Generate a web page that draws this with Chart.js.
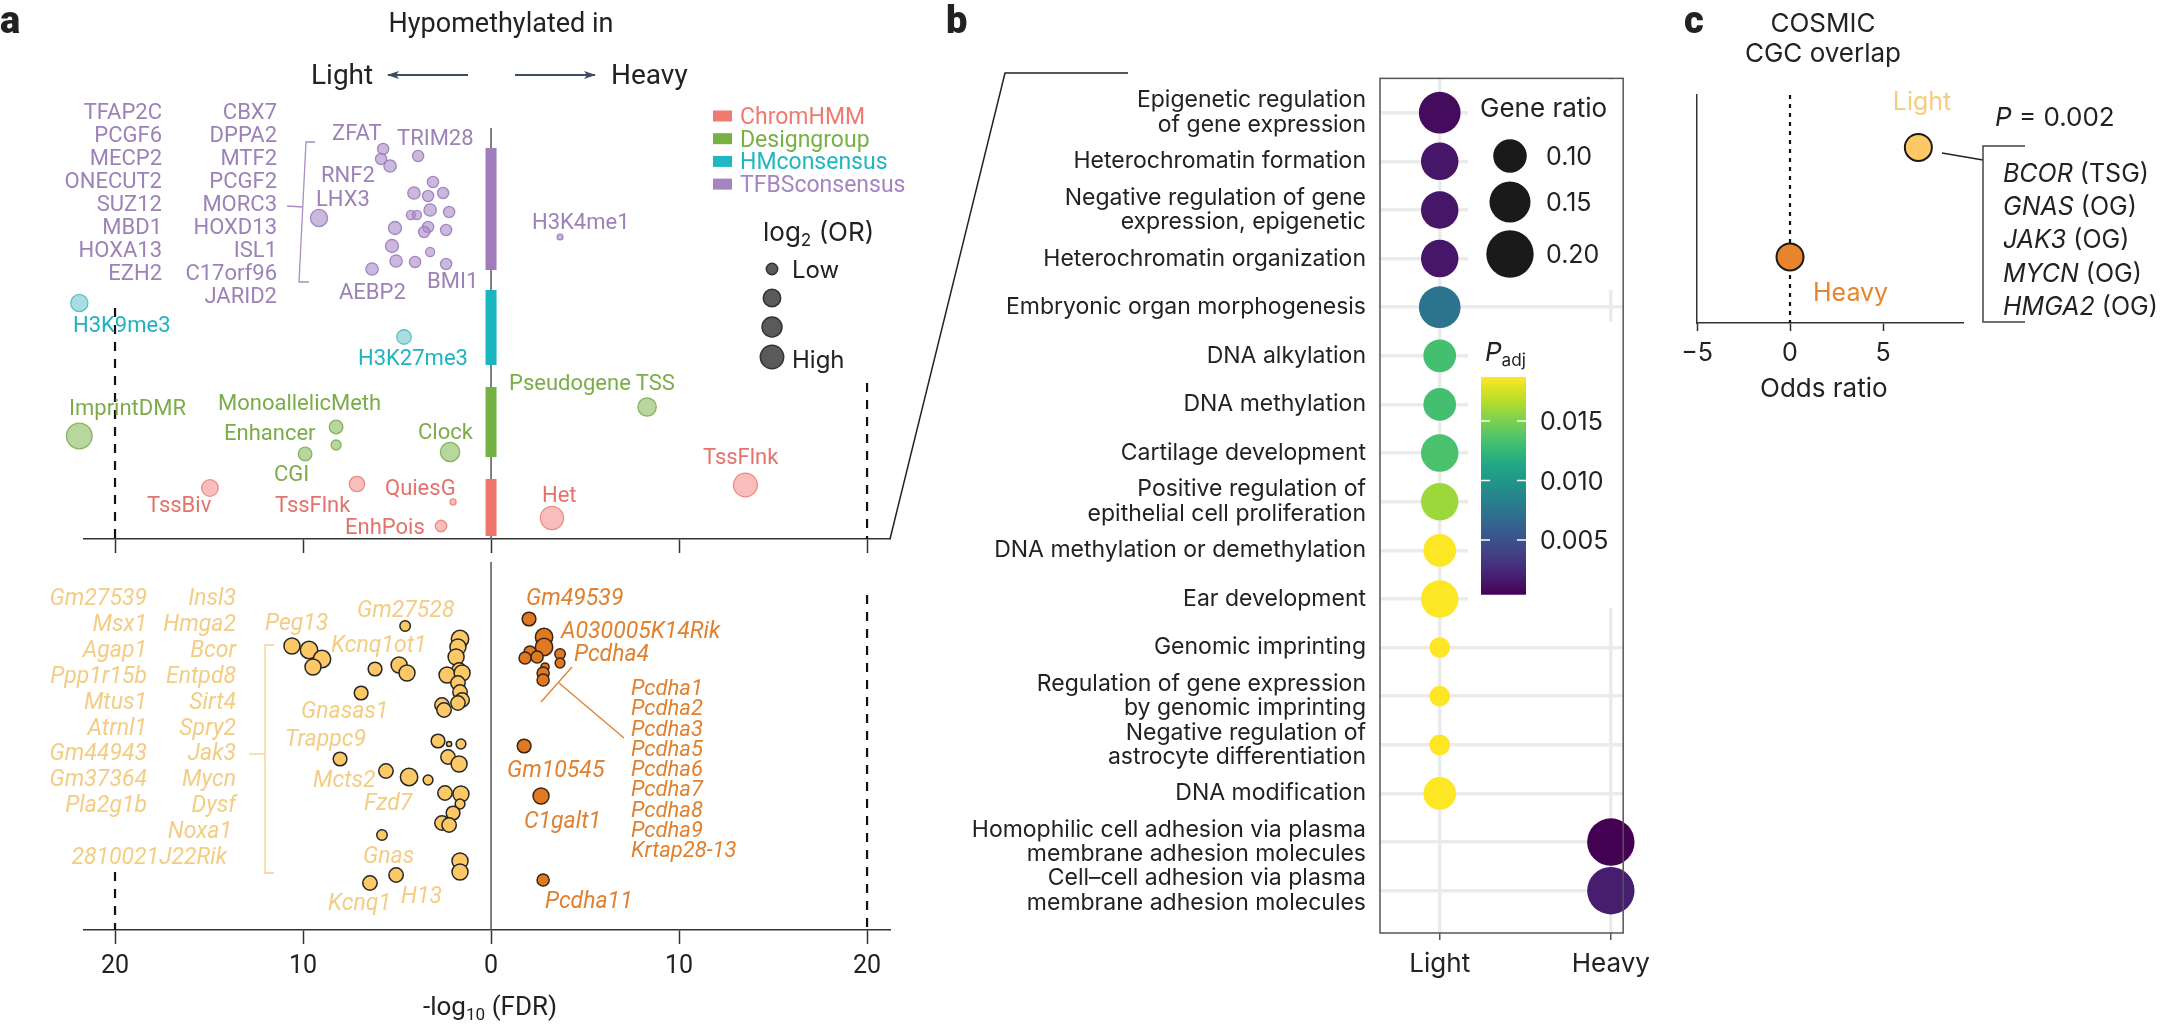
<!DOCTYPE html>
<html>
<head>
<meta charset="utf-8">
<title>DMR enrichment</title>
<script src="https://cdn.jsdelivr.net/npm/chart.js@4.4.1/dist/chart.umd.min.js"></script>
<style>
  html, body { margin: 0; padding: 0; background: #fff; }
  #fig { position: relative; width: 2166px; height: 1027px; overflow: hidden; font-family: Roboto, sans-serif; }
  .box { position: absolute; }
  .t { position: absolute; white-space: nowrap; line-height: 1; }
  #deco { position: absolute; left: 0; top: 0; }
</style>
</head>
<body>
<div id="fig">
  <div class="box" style="left:0;top:0"><canvas id="aTop" width="1000" height="560"></canvas></div>
  <div class="box" style="left:0;top:540px"><canvas id="aBot" width="1000" height="470"></canvas></div>
  <div class="box" style="left:960px;top:40px"><canvas id="bChart" width="700" height="960"></canvas></div>
  <div class="box" style="left:1600px;top:60px"><canvas id="cChart" width="500" height="340"></canvas></div>
  <svg id="deco" width="2166" height="1027"></svg>
</div>
<script>
// ---------- panel a, top: annotation enrichment ----------
// x = signed -log10(FDR) (negative side = hypomethylated in light), y = row position in the strip
const fdrTicks = [-20, -10, 0, 10, 20];

const tfbsFdr = [-5.74, -5.85, -5.37, -3.88, -3.09, -4.10, -3.35, -2.55, -9.15, -3.24, -2.23, -4.26,
                 -3.94, -5.11, -3.35, -3.56, -2.39, -5.27, -3.24, -5.05, -4.04, -2.39, -6.33, 3.67];
const tfbsRow = [39.0, 38.0, 37.3, 38.3, 35.7, 34.6, 34.3, 34.6, 32.1, 32.9, 32.7, 32.4,
                 32.4, 31.1, 31.2, 30.7, 30.9, 29.3, 28.7, 27.8, 27.7, 27.5, 27.0, 30.2];
const tfbsLog2OR = [1.2, 1.2, 1.4, 1.2, 1.2, 1.4, 1.2, 1.2, 2.2, 1.4, 1.2, 0.85,
                    0.85, 1.5, 1.2, 1.2, 1.2, 1.5, 0.85, 1.4, 1.2, 1.2, 1.4, 0.3];

const hmFdr = [-21.9, -4.63];
const hmRow = [23.6, 20.2];
const hmLog2OR = [2.2, 1.75];

const designFdr = [-21.9, -8.24, -8.24, -9.89, -2.18, 8.30];
const designRow = [10.3, 11.2, 9.4, 8.5, 8.7, 13.2];
const designLog2OR = [3.6, 1.6, 1.0, 1.6, 2.55, 2.4];

const chromFdr = [-14.95, -7.13, -2.02, -2.66, 3.24, 13.53];
const chromRow = [5.1, 5.5, 3.7, 1.3, 2.1, 5.4];
const chromLog2OR = [2.1, 1.9, 0.35, 1.25, 3.2, 3.3];

// ---------- panel a, bottom: genes ----------
const lightFdr = [-10.59, -9.68, -8.99, -9.47, -4.57, -6.17, -4.89, -4.47, -6.91, -1.65,
                  -1.76, -1.86, -1.70, -2.34, -1.54, -1.76, -1.65, -2.61, -1.54, -1.76,
                  -2.50, -2.82, -2.23, -1.60, -8.03, -2.29, -1.70, -5.59, -4.36, -3.35,
                  -2.45, -1.60, -1.65, -2.02, -2.61, -2.23, -5.80, -1.65, -1.65, -5.05, -6.44];
const lightRow = [28.4, 28.0, 27.1, 26.3, 30.4, 26.1, 26.5, 25.7, 23.7, 29.1,
                  28.3, 27.3, 26.0, 25.5, 25.7, 24.7, 23.8, 22.5, 23.0, 22.7,
                  22.0, 18.9, 18.6, 18.6, 17.1, 17.3, 16.6, 15.9, 15.3, 15.0,
                  13.7, 13.6, 12.6, 11.7, 10.7, 10.5, 9.5, 6.9, 5.8, 5.5, 4.7];
const lightSize = [2.0, 2.23, 2.23, 2.0, 1.08, 1.62, 2.0, 2.0, 1.62, 2.23,
                   2.0, 2.0, 1.73, 2.0, 2.0, 1.73, 1.73, 1.73, 1.73, 1.73,
                   1.73, 1.62, 0.19, 0.96, 1.62, 1.73, 2.0, 1.73, 2.23, 0.96,
                   1.73, 2.0, 0.96, 1.62, 1.73, 1.73, 1.08, 2.0, 2.0, 1.73, 1.73];

const heavyFdr = [2.02, 2.82, 2.82, 2.07, 3.67, 1.81, 2.45, 3.67, 2.87, 2.77, 2.77, 1.76, 2.66, 2.77];
const heavyRow = [31.1, 29.3, 28.3, 27.8, 27.6, 27.2, 27.3, 26.7, 26.3, 25.7, 25.0, 18.4, 13.4, 5.0];
const heavySize = [1.62, 2.23, 2.23, 1.35, 1.08, 1.35, 1.35, 0.96, 0.69, 1.35, 1.35, 1.62, 2.0, 1.35];

// ---------- panel b: GO terms ----------
const goTerms = [
  ['Epigenetic regulation', 'of gene expression'],
  'Heterochromatin formation',
  ['Negative regulation of gene', 'expression, epigenetic'],
  'Heterochromatin organization',
  'Embryonic organ morphogenesis',
  'DNA alkylation',
  'DNA methylation',
  'Cartilage development',
  ['Positive regulation of', 'epithelial cell proliferation'],
  'DNA methylation or demethylation',
  'Ear development',
  'Genomic imprinting',
  ['Regulation of gene expression', 'by genomic imprinting'],
  ['Negative regulation of', 'astrocyte differentiation'],
  'DNA modification',
  ['Homophilic cell adhesion via plasma', 'membrane adhesion molecules'],
  ['Cell\u2013cell adhesion via plasma', 'membrane adhesion molecules']
];
const goGroups = ['Light', 'Heavy'];
const goGroup = [0, 0, 0, 0, 0, 0, 0, 0, 0, 0, 0, 0, 0, 0, 0, 1, 1];
const goRatio = [0.155, 0.125, 0.125, 0.125, 0.155, 0.095, 0.095, 0.125, 0.125, 0.095,
                 0.125, 0.038, 0.038, 0.038, 0.095, 0.20, 0.20];
const goPadj = [0.0009, 0.0015, 0.0015, 0.0015, 0.0074, 0.0132, 0.0132, 0.0134, 0.0160, 0.0187,
                0.0187, 0.0187, 0.0187, 0.0187, 0.0187, 0.0004, 0.0019];
const ratioTicks = [0.10, 0.15, 0.20];
const padjTicks = [0.015, 0.010, 0.005];

// ---------- panel c: COSMIC CGC ----------
const cgcOdds = [6.9, 0];
const cgcRow = [0.77, 0.29];
const cgcGenes = ['BCOR', 'GNAS', 'JAK3', 'MYCN', 'HMGA2'];
const cgcRoles = ['TSG', 'OG', 'OG', 'OG', 'OG'];
const oddsTicks = [-5, 0, 5];

// ---------- helpers ----------
const PADJ_MIN = 0.0004, PADJ_MAX = 0.0187;
const VIRIDIS = ['#440154', '#482475', '#414487', '#355f8d', '#2a788e', '#21918c',
                 '#22a884', '#44bf70', '#7ad151', '#bddf26', '#fde725'];
function hexRgb(h) { return [1, 3, 5].map(i => parseInt(h.substr(i, 2), 16)); }
function viridis(t) {
  t = Math.min(1, Math.max(0, t));
  const p = t * 10, i = Math.min(9, Math.floor(p)), f = p - i;
  const a = hexRgb(VIRIDIS[i]), b = hexRgb(VIRIDIS[i + 1]);
  return 'rgb(' + a.map((v, k) => Math.round(v + (b[k] - v) * f)).join(',') + ')';
}
const padjColor = p => viridis((p - PADJ_MIN) / (PADJ_MAX - PADJ_MIN));
const orRadius = v => 2 + 3 * v;
const ratioRadius = g => 53 * Math.sqrt(g);

function pts(xs, ys, sz) {
  return xs.map((x, i) => ({ x: x, y: ys[i], r: orRadius(sz[i]) }));
}

const fig = document.getElementById('fig');
function put(html, x, y, o) {
  o = o || {};
  const d = document.createElement('div');
  d.className = 't';
  d.innerHTML = html;
  const tx = o.align === 'right' ? '-100%' : (o.align === 'center' ? '-50%' : '0');
  d.style.left = x + 'px';
  d.style.top = y + 'px';
  d.style.transform = 'translate(' + tx + ',-50%)';
  d.style.fontSize = (o.size || 22) + 'px';
  d.style.color = o.color || '#222';
  d.style.fontFamily = o.font || 'Roboto';
  if (o.italic) d.style.fontStyle = 'italic';
  if (o.weight) d.style.fontWeight = o.weight;
  fig.appendChild(d);
}

// decoration drawn on the panel a charts: centre line, group bars, dashed FDR cut-offs
const aDecor = {
  id: 'aDecor',
  beforeDatasetsDraw(chart, args, opts) {
    const { ctx } = chart;
    const xs = chart.scales.x, ys = chart.scales.y;
    const x0 = xs.getPixelForValue(0);
    ctx.save();
    ctx.strokeStyle = '#555';
    ctx.lineWidth = 1.5;
    ctx.beginPath();
    ctx.moveTo(x0, ys.getPixelForValue(opts.centerTop));
    ctx.lineTo(x0, ys.getPixelForValue(0));
    ctx.stroke();
    (opts.bands || []).forEach(b => {
      const y1 = ys.getPixelForValue(b[0]), y2 = ys.getPixelForValue(b[1]);
      ctx.fillStyle = b[2];
      ctx.fillRect(x0 - 5.5, y1, 11, y2 - y1);
    });
    ctx.setLineDash([9, 8]);
    ctx.strokeStyle = '#111';
    ctx.lineWidth = 2.2;
    opts.dashes.forEach(d => {
      const x = xs.getPixelForValue(d[0]);
      ctx.beginPath();
      ctx.moveTo(x, ys.getPixelForValue(d[1]));
      ctx.lineTo(x, ys.getPixelForValue(0));
      ctx.stroke();
    });
    ctx.restore();
  }
};

function aOptions(yMax, axisH, padTop, showLabels, decor) {
  return {
    responsive: false,
    animation: false,
    events: [],
    layout: { padding: { left: 84, right: 110, top: padTop, bottom: 0 }, autoPadding: false },
    plugins: { legend: { display: false }, tooltip: { enabled: false }, aDecor: decor },
    scales: {
      x: {
        type: 'linear', min: -21.65, max: 21.22,
        afterBuildTicks: s => { s.ticks = fdrTicks.map(v => ({ value: v })); },
        afterFit: s => { s.height = axisH; },
        grid: { display: true, drawOnChartArea: false, drawTicks: true, tickLength: 14, tickColor: '#333', tickWidth: 1.5 },
        border: { display: true, color: '#333', width: 1.5 },
        ticks: { display: showLabels, callback: v => String(Math.abs(v)), font: { family: 'Roboto', size: 25 }, color: '#222', padding: 8, maxRotation: 0, autoSkip: false }
      },
      y: { display: false, min: 0, max: yMax }
    }
  };
}

// ---------- panel a, top chart ----------
new Chart(document.getElementById('aTop'), {
  type: 'bubble',
  data: {
    datasets: [
      { data: pts(tfbsFdr, tfbsRow, tfbsLog2OR), backgroundColor: 'rgba(170,140,200,0.62)', borderColor: 'rgba(150,118,186,0.85)', borderWidth: 1.3, clip: false },
      { data: pts(hmFdr, hmRow, hmLog2OR), backgroundColor: 'rgba(110,200,205,0.6)', borderColor: 'rgba(70,185,192,0.85)', borderWidth: 1.3, clip: false },
      { data: pts(designFdr, designRow, designLog2OR), backgroundColor: 'rgba(140,190,100,0.62)', borderColor: 'rgba(118,172,76,0.85)', borderWidth: 1.3, clip: false },
      { data: pts(chromFdr, chromRow, chromLog2OR), backgroundColor: 'rgba(244,150,145,0.62)', borderColor: 'rgba(236,125,118,0.85)', borderWidth: 1.3, clip: false }
    ]
  },
  options: aOptions(43.9, 21, 100, false, {
    centerTop: 41.1,
    bands: [[39.1, 26.9, '#a07cbb'], [24.9, 17.4, '#19b6c1'], [15.2, 8.2, '#75b043'], [6.0, 0.3, '#ef746b']],
    dashes: [[-20, 23.1], [20, 15.6]]
  }),
  plugins: [aDecor]
});

// ---------- panel a, bottom chart ----------
new Chart(document.getElementById('aBot'), {
  type: 'bubble',
  data: {
    datasets: [
      { data: pts(lightFdr, lightRow, lightSize), backgroundColor: '#fdc866', borderColor: '#262626', borderWidth: 1.5, clip: false },
      { data: pts(heavyFdr, heavyRow, heavySize), backgroundColor: '#e07a22', borderColor: '#3b2414', borderWidth: 1.5, clip: false }
    ]
  },
  options: aOptions(37, 80, 20, true, {
    centerTop: 36.8,
    bands: [],
    dashes: [[-20, 5.8], [20, 33.5]]
  }),
  plugins: [aDecor]
});

// ---------- panel b ----------
const bDecor = {
  id: 'bDecor',
  beforeDatasetsDraw(chart) {
    const { ctx } = chart;
    ctx.save();
    ctx.fillStyle = '#fff';
    ctx.fillRect(1468 - 960, 80 - 40, 168, 210);
    ctx.fillRect(1468 - 960, 322 - 40, 168, 286);
    ctx.restore();
  },
  afterDraw(chart) {
    const { ctx, chartArea: a } = chart;
    ctx.save();
    ctx.strokeStyle = '#555';
    ctx.lineWidth = 1.5;
    ctx.strokeRect(a.left, a.top, a.right - a.left, a.bottom - a.top);
    ctx.restore();
  }
};
new Chart(document.getElementById('bChart'), {
  type: 'bubble',
  data: {
    datasets: [{
      data: goTerms.map((t, i) => ({ x: goGroup[i], y: i, r: ratioRadius(goRatio[i]) })),
      backgroundColor: goPadj.map(padjColor),
      borderWidth: 0,
      clip: false
    }]
  },
  options: {
    responsive: false,
    animation: false,
    events: [],
    layout: { padding: { left: 0, right: 21, top: 22, bottom: 0 }, autoPadding: false },
    plugins: { legend: { display: false }, tooltip: { enabled: false } },
    scales: {
      x: {
        type: 'linear', min: -0.349, max: 1.072,
        afterBuildTicks: s => { s.ticks = goGroups.map((g, i) => ({ value: i })); },
        afterFit: s => { s.height = 67; },
        grid: { color: '#ebebeb', lineWidth: 3.5, drawTicks: true, tickLength: 7, tickColor: '#555', tickWidth: 1.5 },
        border: { display: false },
        ticks: { callback: v => goGroups[v], font: { family: 'Inter', size: 26 }, color: '#222', padding: 9, maxRotation: 0, autoSkip: false }
      },
      y: {
        type: 'linear', reverse: true, min: -0.706, max: 16.87,
        afterBuildTicks: s => { s.ticks = goTerms.map((t, i) => ({ value: i })); },
        afterFit: s => { s.width = 420; },
        grid: { color: '#ebebeb', lineWidth: 3.5, drawTicks: false },
        border: { display: false },
        ticks: { callback: v => goTerms[v], font: { family: 'Inter', size: 23, lineHeight: 1.06 }, color: '#222', padding: 14, autoSkip: false }
      }
    }
  },
  plugins: [bDecor]
});

// ---------- panel c ----------
const cDecor = {
  id: 'cDecor',
  beforeDatasetsDraw(chart) {
    const { ctx, chartArea: a } = chart;
    const x0 = chart.scales.x.getPixelForValue(0);
    ctx.save();
    ctx.setLineDash([4, 5]);
    ctx.strokeStyle = '#111';
    ctx.lineWidth = 2.2;
    ctx.beginPath();
    ctx.moveTo(x0, a.top);
    ctx.lineTo(x0, a.bottom);
    ctx.stroke();
    ctx.restore();
  }
};
new Chart(document.getElementById('cChart'), {
  type: 'bubble',
  data: {
    datasets: [{
      data: cgcOdds.map((v, i) => ({ x: v, y: cgcRow[i], r: 13.5 })),
      backgroundColor: ['#fdc866', '#e8842c'],
      borderColor: '#1a1a1a',
      borderWidth: 2,
      clip: false
    }]
  },
  options: {
    responsive: false,
    animation: false,
    events: [],
    layout: { padding: { left: 97, right: 137, top: 35, bottom: 0 }, autoPadding: false },
    plugins: { legend: { display: false }, tooltip: { enabled: false } },
    scales: {
      x: {
        type: 'linear', min: -5, max: 9.3,
        afterBuildTicks: s => { s.ticks = oddsTicks.map(v => ({ value: v })); },
        afterFit: s => { s.height = 77; },
        grid: { display: true, drawOnChartArea: false, drawTicks: true, tickLength: 8, tickColor: '#333', tickWidth: 1.5 },
        border: { display: true, color: '#333', width: 1.5 },
        ticks: { callback: v => (v < 0 ? '\u2212' + Math.abs(v) : String(v)), font: { family: 'Inter', size: 25 }, color: '#222', padding: 7, maxRotation: 0, autoSkip: false }
      },
      y: {
        type: 'linear', min: 0, max: 1,
        afterFit: s => { s.width = 0; },
        grid: { display: false },
        border: { display: true, color: '#333', width: 1.5 },
        ticks: { display: false }
      }
    }
  },
  plugins: [cDecor]
});

// ---------- decorative lines, legends (svg) ----------
const gStops = VIRIDIS.map((c, i) => '<stop offset="' + (i / 10) + '" stop-color="' + c + '"/>').join('');
const cbY = v => 540 - (v - 0.005) / 0.005 * 59.5;
let s = '';
s += '<defs><marker id="ah" viewBox="0 0 12 10" refX="11" refY="5" markerUnits="userSpaceOnUse" markerWidth="13" markerHeight="10" orient="auto"><path d="M0,1 L12,5 L0,9 L3,5 z" fill="#3b4d63"/></marker>';
s += '<linearGradient id="vir" x1="0" y1="1" x2="0" y2="0">' + gStops + '</linearGradient></defs>';
// direction arrows
s += '<line x1="468" y1="75" x2="388" y2="75" stroke="#3b4d63" stroke-width="2" marker-end="url(#ah)"/>';
s += '<line x1="515" y1="75" x2="595" y2="75" stroke="#3b4d63" stroke-width="2" marker-end="url(#ah)"/>';
// category legend
const catCols = ['#ee7a70', '#77b043', '#1fb7c2', '#a484c1'];
catCols.forEach((c, i) => { s += '<rect x="713" y="' + (110.5 + i * 22.7) + '" width="19" height="11" fill="' + c + '"/>'; });
// size legend (log2 OR)
[1.23, 2.23, 2.67, 3.23].forEach((v, i) => {
  s += '<circle cx="772" cy="' + [269, 298, 327, 357][i] + '" r="' + orRadius(v) + '" fill="#5a5a5a" stroke="#333" stroke-width="1.5"/>';
});
// brackets in panel a
s += '<polyline points="315,142 306,142 299,282 309,282" fill="none" stroke="#a98fc2" stroke-width="1.3"/>';
s += '<line x1="287" y1="206" x2="303" y2="207" stroke="#a98fc2" stroke-width="1.3"/>';
s += '<polyline points="274,645 265,645 265,873 274,873" fill="none" stroke="#f3cf8a" stroke-width="1.3"/>';
s += '<line x1="249" y1="754" x2="265" y2="754" stroke="#f3cf8a" stroke-width="1.3"/>';
s += '<line x1="572" y1="667" x2="541" y2="702" stroke="#e08433" stroke-width="1.4"/>';
s += '<line x1="559" y1="683" x2="624" y2="738" stroke="#e08433" stroke-width="1.4"/>';
// zoom connector a -> b
s += '<polyline points="890,539 1005,73 1128,73" fill="none" stroke="#222" stroke-width="1.5"/>';
// panel b legends
ratioTicks.forEach((g, i) => {
  s += '<circle cx="1510" cy="' + [156, 202, 254][i] + '" r="' + ratioRadius(g) + '" fill="#1a1a1a"/>';
});
s += '<rect x="1481" y="' + cbY(PADJ_MAX) + '" width="45" height="' + (cbY(PADJ_MIN) - cbY(PADJ_MAX)) + '" fill="url(#vir)"/>';
padjTicks.forEach(v => {
  const y = cbY(v);
  s += '<line x1="1481" y1="' + y + '" x2="1490" y2="' + y + '" stroke="#fff" stroke-width="1.5"/>';
  s += '<line x1="1517" y1="' + y + '" x2="1526" y2="' + y + '" stroke="#fff" stroke-width="1.5"/>';
});
// panel c bracket
s += '<line x1="1942" y1="153" x2="1983" y2="160" stroke="#222" stroke-width="1.5"/>';
s += '<polyline points="2025,146 1983,146 1983,322 2025,322" fill="none" stroke="#444" stroke-width="1.5"/>';
document.getElementById('deco').innerHTML = s;

// ---------- text ----------
const PURPLE = '#9d82b8', TEAL = '#1fb3c0', GREEN = '#7aad47', RED = '#e3736c', YEL = '#f4cd84', ORA = '#e0812f';
const sub = t => '<span style="font-size:0.66em;position:relative;top:0.32em">' + t + '</span>';

put('a', 0, 20, { size: 38, weight: 900, font: 'Roboto' });
put('b', 946, 20, { size: 38, weight: 900, font: 'Roboto' });
put('c', 1684, 20, { size: 38, weight: 900, font: 'Roboto' });

put('Hypomethylated in', 501, 23, { align: 'center', size: 27 });
put('Light', 311, 75, { size: 28 });
put('Heavy', 611, 75, { size: 28 });

['TFAP2C', 'PCGF6', 'MECP2', 'ONECUT2', 'SUZ12', 'MBD1', 'HOXA13', 'EZH2'].forEach((t, i) => put(t, 162, 112 + 23 * i, { align: 'right', color: PURPLE }));
['CBX7', 'DPPA2', 'MTF2', 'PCGF2', 'MORC3', 'HOXD13', 'ISL1', 'C17orf96', 'JARID2'].forEach((t, i) => put(t, 277, 112 + 23 * i, { align: 'right', color: PURPLE }));
[['ZFAT', 332, 133], ['TRIM28', 397, 138], ['RNF2', 321, 175], ['LHX3', 316, 199], ['AEBP2', 339, 292], ['BMI1', 427, 281], ['H3K4me1', 532, 222]]
  .forEach(l => put(l[0], l[1], l[2], { color: PURPLE }));
put('H3K9me3', 73, 325, { color: TEAL });
put('H3K27me3', 358, 358, { color: TEAL });
[['Pseudogene TSS', 509, 383], ['ImprintDMR', 69, 408], ['MonoallelicMeth', 218, 403], ['Enhancer', 224, 433], ['CGI', 274, 474], ['Clock', 418, 432]]
  .forEach(l => put(l[0], l[1], l[2], { color: GREEN }));
[['TssBiv', 147, 505], ['TssFlnk', 275, 505], ['QuiesG', 385, 488], ['EnhPois', 345, 527], ['Het', 542, 495], ['TssFlnk', 703, 457]]
  .forEach(l => put(l[0], l[1], l[2], { color: RED }));

// category legend text and size legend
['ChromHMM', 'Designgroup', 'HMconsensus', 'TFBSconsensus'].forEach((t, i) => put(t, 740, 116 + 22.7 * i, { color: catCols[i], size: 23 }));
put('log' + sub('2') + ' (OR)', 763, 232, { size: 26, font: 'Inter' });
put('Low', 792, 270, { size: 24, font: 'Inter' });
put('High', 792, 360, { size: 24, font: 'Inter' });

// lower gene labels
['Gm27539', 'Msx1', 'Agap1', 'Ppp1r15b', 'Mtus1', 'Atrnl1', 'Gm44943', 'Gm37364', 'Pla2g1b']
  .forEach((t, i) => put(t, 147, 597 + 25.9 * i, { align: 'right', color: YEL, italic: true, size: 23 }));
['Insl3', 'Hmga2', 'Bcor', 'Entpd8', 'Sirt4', 'Spry2', 'Jak3', 'Mycn', 'Dysf', 'Noxa1', '2810021J22Rik']
  .forEach((t, i) => put(t, i === 9 ? 232 : (i === 10 ? 227 : 236), 597 + 25.9 * i, { align: 'right', color: YEL, italic: true, size: 23 }));
[['Peg13', 265, 622], ['Gm27528', 357, 609], ['Kcnq1ot1', 331, 644], ['Gnasas1', 301, 710], ['Trappc9', 285, 738],
 ['Mcts2', 313, 779], ['Fzd7', 364, 802], ['Gnas', 363, 855], ['Kcnq1', 328, 902], ['H13', 401, 895]]
  .forEach(l => put(l[0], l[1], l[2], { color: YEL, italic: true, size: 23 }));
[['Gm49539', 526, 597], ['A030005K14Rik', 561, 630], ['Pcdha4', 574, 653], ['Gm10545', 507, 769], ['C1galt1', 524, 820], ['Pcdha11', 545, 900]]
  .forEach(l => put(l[0], l[1], l[2], { color: ORA, italic: true, size: 23 }));
['Pcdha1', 'Pcdha2', 'Pcdha3', 'Pcdha5', 'Pcdha6', 'Pcdha7', 'Pcdha8', 'Pcdha9', 'Krtap28-13']
  .forEach((t, i) => put(t, 631, 688 + 20.25 * i, { color: ORA, italic: true, size: 22 }));

put('-log' + sub('10') + ' (FDR)', 490, 1006, { align: 'center', size: 26 });

// panel b legend text
put('Gene ratio', 1480, 108, { size: 26, font: 'Inter' });
ratioTicks.forEach((g, i) => put(g.toFixed(2), 1546, [156, 202, 254][i], { size: 25, font: 'Inter' }));
put('<i>P</i>' + sub('adj'), 1485, 352, { size: 26, font: 'Inter' });
padjTicks.forEach(v => put(v.toFixed(3), 1540, cbY(v), { size: 25, font: 'Inter' }));

// panel c text
put('COSMIC', 1823, 23, { align: 'center', size: 26, font: 'Inter' });
put('CGC overlap', 1823, 53, { align: 'center', size: 26, font: 'Inter' });
put('Light', 1922, 101, { align: 'center', size: 25, font: 'Inter', color: '#f5cd7e' });
put('Heavy', 1813, 292, { size: 25, font: 'Inter', color: '#e8842c' });
put('<i>P</i> = 0.002', 1995, 117, { size: 26, font: 'Inter' });
cgcGenes.forEach((g, i) => put('<i>' + g + '</i> (' + cgcRoles[i] + ')', 2003, 173 + 33.2 * i, { size: 25, font: 'Inter' }));
put('Odds ratio', 1760, 388, { size: 26, font: 'Inter' });
</script>
</body>
</html>
